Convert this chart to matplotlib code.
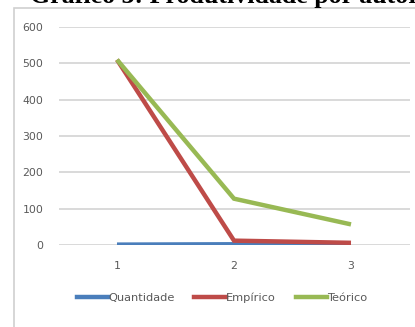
import matplotlib
matplotlib.use("Agg")
import matplotlib.pyplot as plt
from matplotlib.patches import Rectangle
from matplotlib.lines import Line2D

# Author productivity (Lotka): number of authors per number of articles
categories = [1, 2, 3]
quantidade = [1, 2, 3]
empirico = [510, 12, 6]
teorico = [510, 127.5, 56.7]
series_names = ["Quantidade", "Empírico", "Teórico"]
series_colors = ["#4A7EBB", "#BE4B48", "#98B954"]
y_ticks = [0, 100, 200, 300, 400, 500, 600]
title = "Gráfico 3: Produtividade por autor"

W, H = 415, 327
fig = plt.figure(figsize=(W / 100, H / 100), dpi=100)
fig.patch.set_facecolor("white")

def fx(px):
    return px / W

def fy(py):
    return 1 - py / H

label_font = ["DejaVu Sans"]
label_size = 7.8
legend_size = 8.2

# chart frame
frame = Rectangle((fx(13.5), fy(340)), fx(420) - fx(13.5), fy(8) - fy(340),
                  transform=fig.transFigure, facecolor="white",
                  edgecolor="#D0D0D0", linewidth=1.2, zorder=-5)
fig.patches.append(frame)

fig.text(fx(30), fy(3), title, fontsize=18.6, fontweight="bold",
         family="Liberation Serif", color="black", ha="left", va="baseline")

ax = fig.add_axes([fx(58.5), fy(245), fx(409.5) - fx(58.5), fy(27) - fy(245)])
ax.set_facecolor("none")
ax.set_xlim(0.5, 3.5)
ax.set_ylim(0, 600)
ax.set_yticks(y_ticks)
ax.set_xticks(categories)
ax.grid(axis="y", color="#D9D9D9", linewidth=1.4)
ax.set_axisbelow(True)
for s in ax.spines.values():
    s.set_visible(False)
ax.tick_params(length=0, labelsize=label_size, labelcolor="#595959")
ax.tick_params(axis="y", pad=11)
ax.tick_params(axis="x", pad=11.5)
for lab in ax.get_xticklabels() + ax.get_yticklabels():
    lab.set_family(label_font)

for vals, name, col in zip([quantidade, empirico, teorico], series_names, series_colors):
    ax.plot(categories, vals, color=col, linewidth=3.2, label=name,
            solid_capstyle="butt", solid_joinstyle="miter")

handles = [Line2D([], [], color=c, linewidth=3.2) for c in series_colors]
leg = fig.legend(handles, series_names, loc="center", bbox_to_anchor=(fx(222), fy(298)),
                 ncol=3, frameon=False, handlelength=2.75, handletextpad=0.0,
                 columnspacing=1.75, prop={"family": label_font, "size": legend_size})
for t in leg.get_texts():
    t.set_color("#595959")

fig.savefig("out.png", dpi=100, facecolor="white")
